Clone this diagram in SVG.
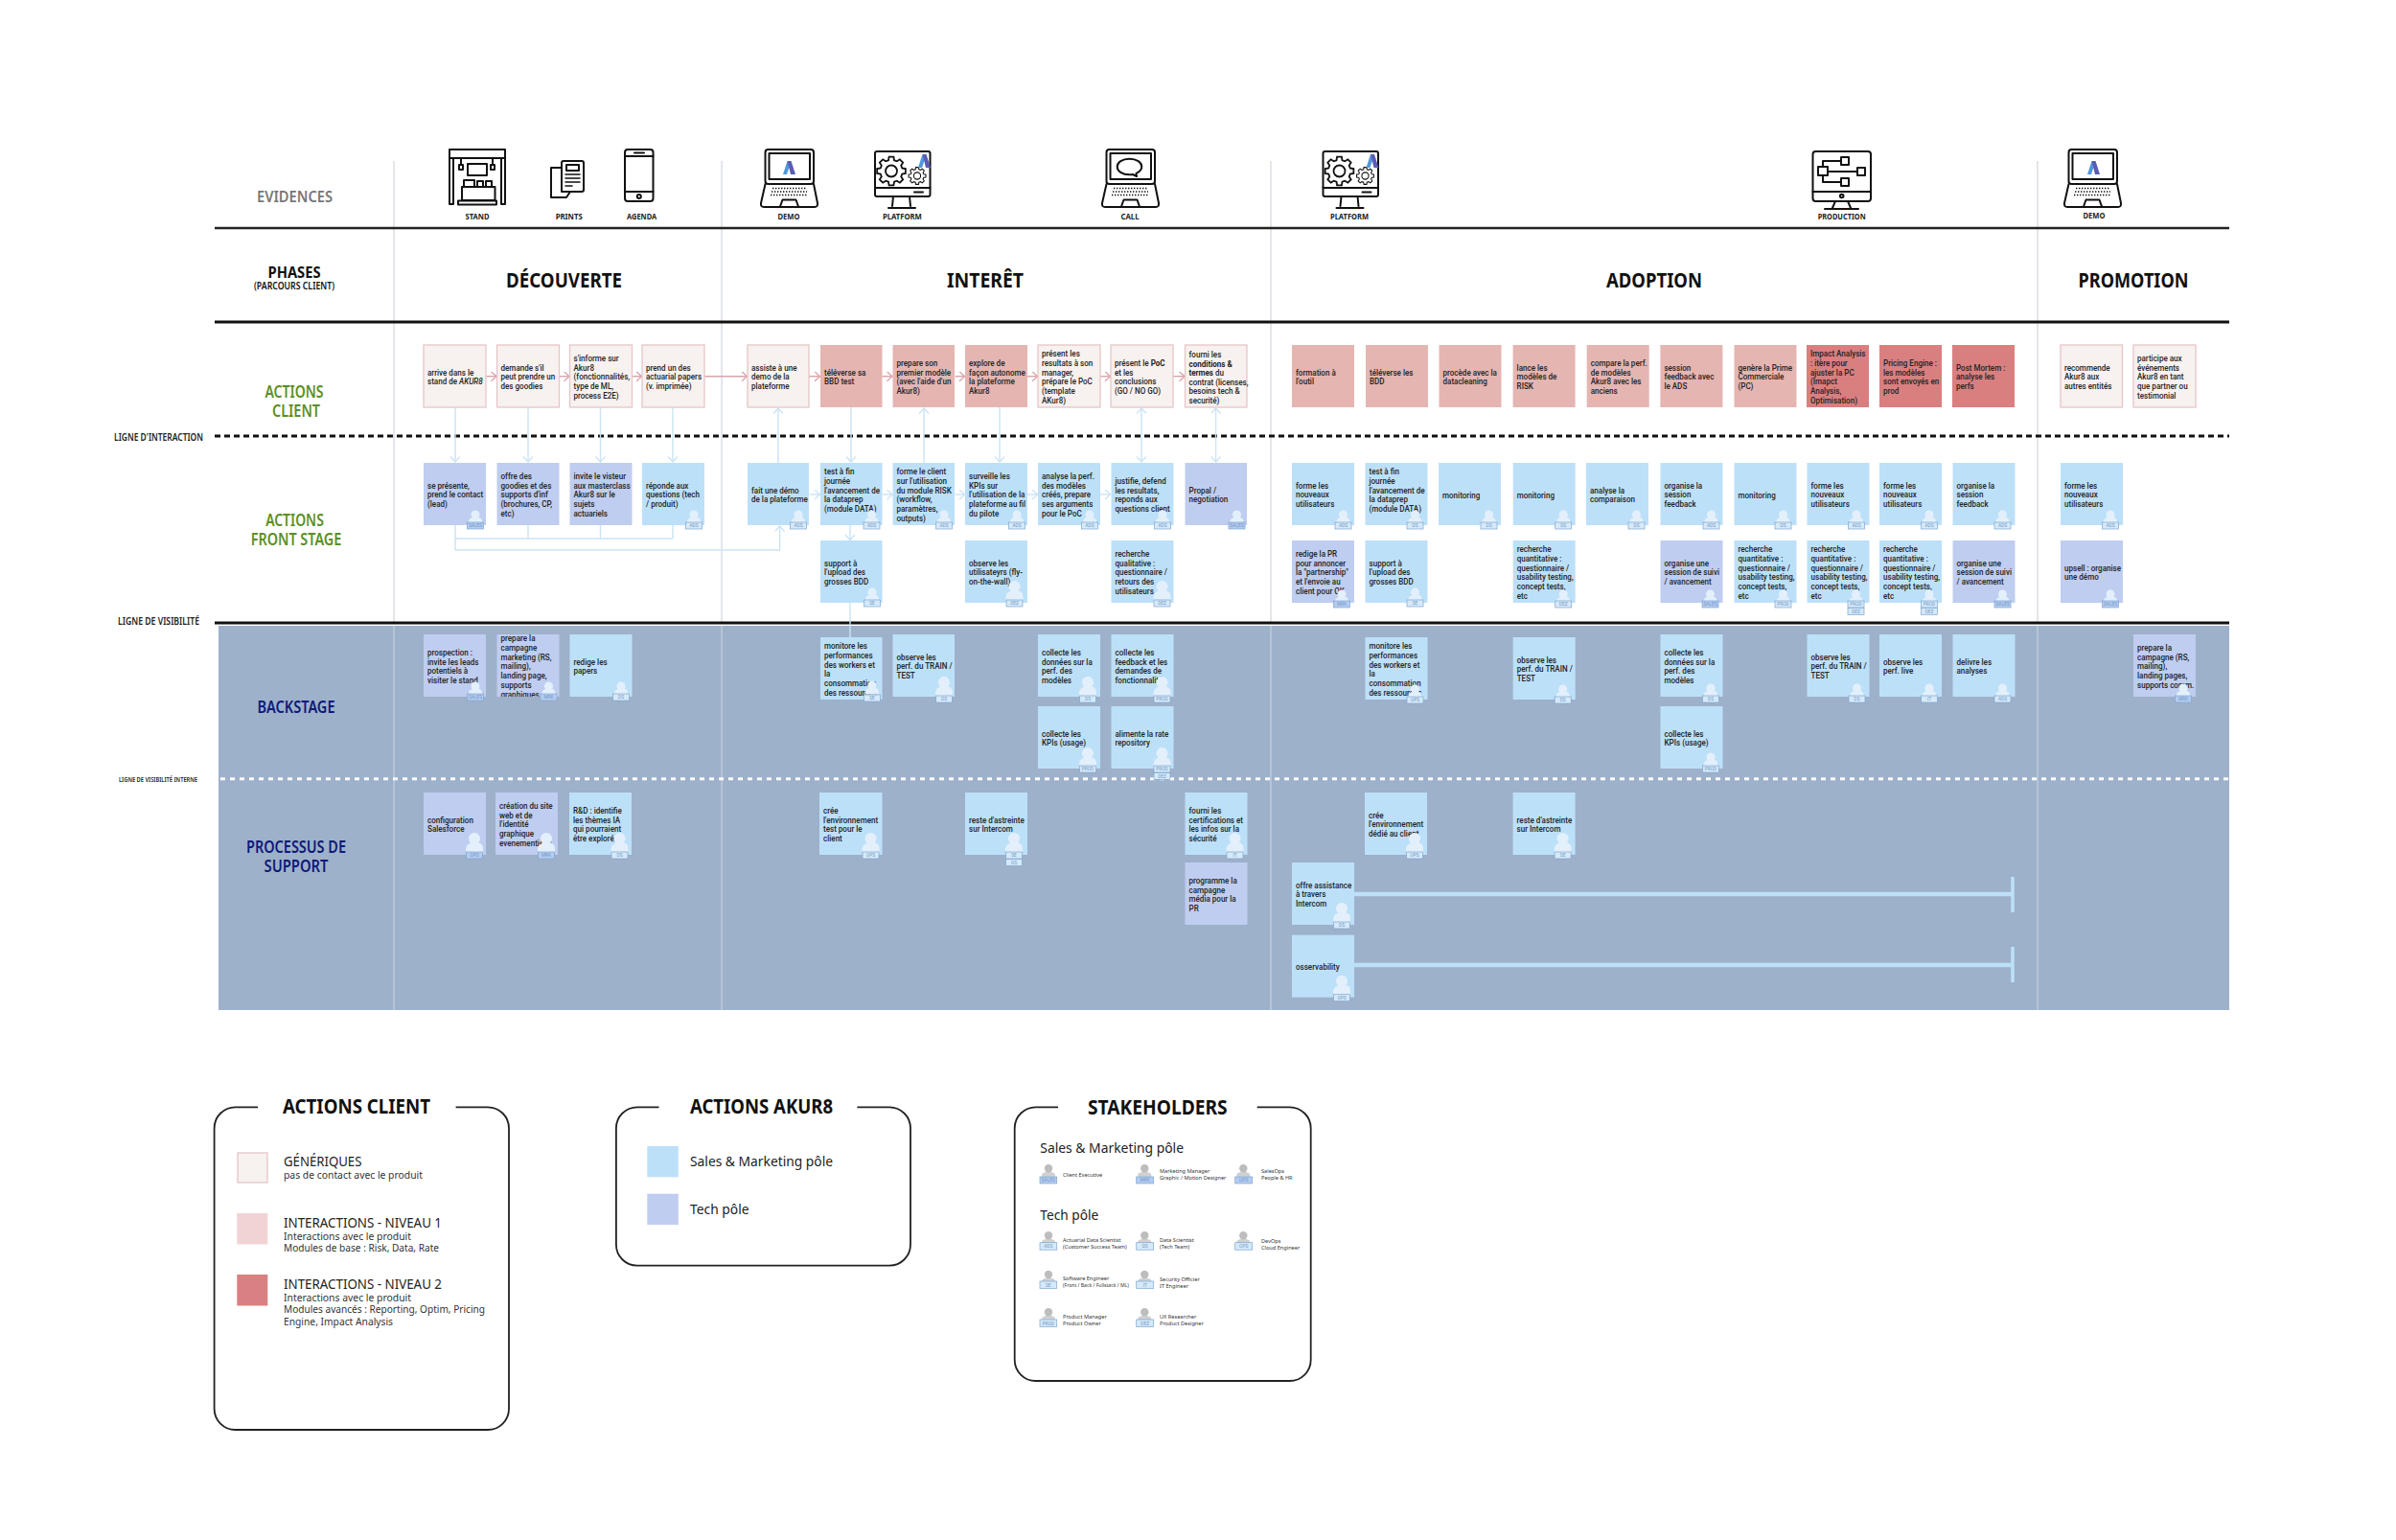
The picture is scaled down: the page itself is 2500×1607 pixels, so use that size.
<svg xmlns="http://www.w3.org/2000/svg" width="2500" height="1607" viewBox="0 0 2500 1607">
<style>
text{font-family:"Noto Sans","Liberation Sans",sans-serif}
.t{font-family:Roboto,"Liberation Sans",sans-serif;font-size:9.6px;font-weight:500;fill:#232323;translate:0 .8px}
.g{fill:#f7f1f0;stroke:#e7c6c6;stroke-width:1.3}
.r1{fill:#e5b5b1}
.r2{fill:#d97f80}
.b{fill:#bde0f9}
.v{fill:#bfcdf0}
.bd{fill:#d5e9f9;stroke:#7ea6cf;stroke-width:.7}
.bd2{fill:#b4cbf1;stroke:#7ea6cf;stroke-width:.7}
.bt{font-family:Roboto,sans-serif;font-size:4.8px;fill:#7499c6;text-anchor:middle}
.pf{fill:#e3f0fb}
.ic{fill:none;stroke:#111;stroke-width:2;stroke-linejoin:round;stroke-linecap:round}
.ev{font-size:8px;font-weight:700;fill:#222;text-anchor:middle}
.ph{font-size:21px;font-weight:700;fill:#111;text-anchor:middle}
.gr{font-size:17px;font-weight:600;fill:#5b8f22;text-anchor:middle;translate:0 1.5px}
.nv{font-size:17px;font-weight:600;fill:#0d1a7a;text-anchor:middle;translate:0 1.5px}
.lg{font-weight:600;fill:#222;text-anchor:middle}
.lt{font-size:21px;font-weight:700;fill:#111;text-anchor:middle;translate:0 1.5px}
.l1{font-size:14px;fill:#222;translate:0 1px}
.l2{font-size:11px;fill:#333;translate:0 1px}
.s{font-size:5.6px;fill:#333;translate:0 .8px}
.hd{translate:0 1.5px}
.sp{fill:#bdbdbd}
.box{fill:none;stroke:#222;stroke-width:1.8}
.vl{stroke:#dde0e5;stroke-width:1.6}
.vb{stroke:#c6d1df;stroke-width:1.2}
.cb{fill:none;stroke:#cbe3f5;stroke-width:1.4}
.cr{fill:none;stroke:#d9a3aa;stroke-width:1.4}
</style>
<defs>
<marker id="ab" markerUnits="userSpaceOnUse" markerWidth="10" markerHeight="12" refX="6.5" refY="5" orient="auto-start-reverse"><path d="M1 0L6.5 5L1 10" fill="none" stroke="#cbe3f5" stroke-width="1.3"/></marker>
<marker id="ar" markerUnits="userSpaceOnUse" markerWidth="10" markerHeight="12" refX="6.5" refY="5" orient="auto"><path d="M1 0L6.5 5L1 10" fill="none" stroke="#d9a3aa" stroke-width="1.3"/></marker>
<g id="ps" class="pf"><circle r="4.5"/><path d="M-7 9.5v-2.5q0-4 7-4.5t7 4.5v2.5z"/></g>
<g id="pb" class="pf"><circle r="6"/><path d="M-9 15v-4q0-6 9-7t9 7v4z"/></g>
<g id="bs"><rect width="17" height="7" class="bd"/></g>
<g id="bv"><rect width="17" height="7" class="bd2"/></g>
<g id="sperson"><circle r="4.2" class="sp"/><path d="M-7 10v-3q0-3.5 7-3.5t7 3.5v3z" class="sp" opacity=".7"/></g>
<g id="logo"><path d="M4.500 0L0 14H4L7 5z" fill="#4f97dc"/><path d="M4.500 0H8.500L13 14H8z" fill="#5a5cb4"/></g>
<g id="gear"><polygon points="75,-20 99,-16 99,16 75,20 68,39 81,59 59,81 39,68 20,75 16,99 -16,99 -20,75 -39,68 -59,81 -81,59 -68,39 -75,20 -99,16 -99,-16 -75,-20 -68,-39 -81,-59 -59,-81 -39,-68 -20,-75 -16,-99 16,-99 20,-75 39,-68 59,-81 81,-59 68,-39" fill="none" stroke="#111" stroke-width="12"/><circle r="40" fill="none" stroke="#111" stroke-width="12"/></g>
<g id="laptop" class="ic"><rect x="5.5" y="1" width="50.5" height="36" rx="3"/><rect x="9.5" y="5" width="42.5" height="27"/><path d="M5.5 37L1 57Q.5 61 4 61H57Q60.5 61 60 57L56 37"/><path d="M21 60.5L23.5 53.5H37.5L40 60.5"/><path d="M13 41.5H48M12 45H49M11 48.5H50" stroke-width="1.6" stroke-dasharray="1.4 1.6" stroke-linecap="butt"/></g>
<g id="monitor"><rect x="1" y="1" width="57.5" height="47" rx="2" class="ic"/><path d="M1 39H58.5M42 43.5H51M20 48L19 58M37 48L38 58M15 60H43" class="ic"/><use href="#gear" transform="translate(18 21.5) scale(.15)"/><use href="#gear" transform="translate(45 26.5) scale(.09)"/><use href="#logo" x="46" y="4"/></g>
</defs>
<rect width="2500" height="1607" fill="#fff"/>
<rect id="band" x="228" y="653" width="2098" height="401" fill="#9eb1ca"/>
<g id="grid">
<path class="vl" d="M411 168V650M753 168V650M1326 168V650M2126 168V650"/>
<path class="vb" d="M411 653V1054M753 653V1054M1326 653V1054M2126 653V1054"/>
<path d="M224 238H2326" stroke="#222" stroke-width="2.5"/>
<path d="M224 336H2326" stroke="#111" stroke-width="3"/>
<path d="M224 650H2326" stroke="#111" stroke-width="3"/>
<path d="M224 455H2326" stroke="#111" stroke-width="3" stroke-dasharray="6 4"/>
<path d="M230 812.7H2326" stroke="#fff" stroke-width="3" stroke-dasharray="5 5"/>
</g>
<g id="labels">
<text class="hd" x="307.5" y="209" font-size="16.5" font-weight="600" fill="#777" text-anchor="middle" textLength="79" lengthAdjust="spacingAndGlyphs">EVIDENCES</text>
<text class="hd" x="307" y="288" font-size="15.5" font-weight="700" fill="#111" text-anchor="middle" textLength="55" lengthAdjust="spacingAndGlyphs">PHASES</text>
<text class="hd" x="307" y="300" font-size="10.5" font-weight="600" fill="#111" text-anchor="middle" textLength="84" lengthAdjust="spacingAndGlyphs">(PARCOURS CLIENT)</text>
<text class="ph" x="588.5" y="300" textLength="121" lengthAdjust="spacingAndGlyphs">DÉCOUVERTE</text>
<text class="ph" x="1028" y="300" textLength="80" lengthAdjust="spacingAndGlyphs">INTERÊT</text>
<text class="ph" x="1726" y="300" textLength="100" lengthAdjust="spacingAndGlyphs">ADOPTION</text>
<text class="ph" x="2226" y="300" textLength="115" lengthAdjust="spacingAndGlyphs">PROMOTION</text>
<text class="gr" x="307" y="413" textLength="61" lengthAdjust="spacingAndGlyphs">ACTIONS</text>
<text class="gr" x="309" y="433" textLength="50" lengthAdjust="spacingAndGlyphs">CLIENT</text>
<text class="gr" x="307.5" y="547.7" textLength="60.6" lengthAdjust="spacingAndGlyphs">ACTIONS</text>
<text class="gr" x="309" y="567" textLength="94.6" lengthAdjust="spacingAndGlyphs">FRONT STAGE</text>
<text class="nv" x="309" y="742" textLength="81" lengthAdjust="spacingAndGlyphs">BACKSTAGE</text>
<text class="nv" x="309" y="888" textLength="104" lengthAdjust="spacingAndGlyphs">PROCESSUS DE</text>
<text class="nv" x="309" y="908" textLength="67" lengthAdjust="spacingAndGlyphs">SUPPORT</text>
<text class="lg" x="165.5" y="460" font-size="10" textLength="93" lengthAdjust="spacingAndGlyphs">LIGNE D'INTERACTION</text>
<text class="lg" x="165.5" y="652" font-size="10" textLength="85" lengthAdjust="spacingAndGlyphs">LIGNE DE VISIBILITÉ</text>
<text class="lg" x="165" y="816" font-size="7.5" textLength="82" lengthAdjust="spacingAndGlyphs">LIGNE DE VISIBILITÉ INTERNE</text>
</g>
<g id="evidences">
<g id="ev-stand"><g class="ic"><rect x="469" y="156" width="58" height="9"/><path d="M469 165V213H473V165M527 165V213H523V165"/><rect x="488" y="171" width="20" height="12"/><path d="M482 195H516.500V209H482zM478 209.500H518V213.500H478z"/><path d="M484 195V188H495V195M498 195V189H504V195M507 195V189H513V195"/><path d="M481 165V172M514 165V172"/><rect x="479" y="172" width="4" height="5"/><rect x="512" y="172" width="4" height="5"/></g><text class="ev" x="498" y="229" textLength="25" lengthAdjust="spacingAndGlyphs">STAND</text></g>
<g id="ev-prints"><g class="ic"><path d="M586 175H575V206H591L595 200"/><path d="M586 200V170Q586 168 588 168H607Q609 168 609 170V198Q609 200 607 200H586z" fill="#fff"/><rect x="591" y="172" width="13" height="6"/><path d="M590 182H605M590 186H605M590 190H605M590 194H597" stroke-width="1.6"/></g><text class="ev" x="593.700" y="229" textLength="28" lengthAdjust="spacingAndGlyphs">PRINTS</text></g>
<g id="ev-agenda"><g class="ic"><rect x="652" y="156" width="29.500" height="54" rx="3"/><path d="M652 163H681.500M652 200H681.500M662 159.500H672"/><circle cx="666.800" cy="205" r="2"/></g><text class="ev" x="669.600" y="229" textLength="31" lengthAdjust="spacingAndGlyphs">AGENDA</text></g>
<g id="ev-demo"><use href="#laptop" x="793" y="155"/><use href="#logo" x="817" y="168"/><text class="ev" x="823" y="229" textLength="23" lengthAdjust="spacingAndGlyphs">DEMO</text></g>
<g id="ev-platform"><use href="#monitor" x="912" y="157"/><text class="ev" x="941.400" y="229" textLength="41" lengthAdjust="spacingAndGlyphs">PLATFORM</text></g>
<g id="ev-call"><use href="#laptop" x="1149" y="155"/><path class="ic" d="M1178.500 165.700C1171 165.700 1165.700 169.500 1165.700 174C1165.700 178.500 1171 182.300 1178.500 182.300C1180 182.300 1181 182.300 1182 182L1186 184L1185.500 180.800C1189 179.300 1191.300 176.800 1191.300 174C1191.300 169.500 1186 165.700 1178.500 165.700z"/><text class="ev" x="1179" y="229" textLength="19" lengthAdjust="spacingAndGlyphs">CALL</text></g>
<g id="ev-platform2"><use href="#monitor" x="1379.500" y="157"/><text class="ev" x="1408" y="229" textLength="40" lengthAdjust="spacingAndGlyphs">PLATFORM</text></g>
<g id="ev-production"><g class="ic"><rect x="1891.500" y="158" width="60.500" height="52" rx="3"/><path d="M1891.500 200H1952M1915 210L1912 217M1928 210L1931 217M1904 218H1939"/><circle cx="1921.700" cy="204.500" r="1.800"/><rect x="1897" y="174" width="10" height="9"/><rect x="1921" y="164" width="8" height="8"/><rect x="1938" y="175" width="8" height="8"/><rect x="1921" y="186" width="8" height="8"/><path d="M1902 174V168H1921M1907 179H1938M1902 183V190H1921"/></g><text class="ev" x="1921.700" y="229" textLength="50" lengthAdjust="spacingAndGlyphs">PRODUCTION</text></g>
<g id="ev-demo2"><use href="#laptop" x="2153" y="155"/><use href="#logo" x="2178" y="168"/><text class="ev" x="2185" y="228" textLength="23" lengthAdjust="spacingAndGlyphs">DEMO</text></g>
</g>
<g id="connectors">
<path class="cr" marker-end="url(#ar)" d="M507 392.700H518"/><path class="cr" marker-end="url(#ar)" d="M583 392.700H594"/><path class="cr" marker-end="url(#ar)" d="M659 392.700H669.500"/><path class="cr" marker-end="url(#ar)" d="M735 392.700H779.500"/><path class="cr" marker-end="url(#ar)" d="M844 392.700H855.500"/><path class="cr" marker-end="url(#ar)" d="M920.500 392.700H931"/><path class="cr" marker-end="url(#ar)" d="M996.500 392.700H1006.500"/><path class="cr" marker-end="url(#ar)" d="M1072 392.700H1082.500"/><path class="cr" marker-end="url(#ar)" d="M1148 392.700H1158.500"/><path class="cr" marker-end="url(#ar)" d="M1224 392.700H1236"/>
<path class="cb" marker-end="url(#ab)" d="M475 425V482"/><path class="cb" marker-end="url(#ab)" d="M551 425V482"/><path class="cb" marker-end="url(#ab)" d="M626.500 425V482"/><path class="cb" marker-end="url(#ab)" d="M702 425V482"/>
<path class="cb" marker-end="url(#ab)" d="M812 483V426"/><path class="cb" marker-end="url(#ab)" d="M888 425V482"/><path class="cb" marker-end="url(#ab)" d="M964 483V426"/><path class="cb" marker-end="url(#ab)" d="M1043 425V482"/>
<path class="cb" marker-start="url(#ab)" marker-end="url(#ab)" d="M1191 426V482"/><path class="cb" marker-start="url(#ab)" marker-end="url(#ab)" d="M1268.600 426V482"/>
<path class="cb" d="M475 548V574M551 548V562M626.500 548V562M702 548V562M475 562H702"/>
<path class="cb" marker-end="url(#ab)" d="M475 574H813.600V549"/>
<path class="cb" marker-end="url(#ab)" d="M845 516H855.500"/><path class="cb" marker-end="url(#ab)" d="M921 516H931"/><path class="cb" marker-end="url(#ab)" d="M996.500 516H1006.500"/><path class="cb" marker-end="url(#ab)" d="M1072 516H1082.500"/><path class="cb" marker-end="url(#ab)" d="M1148 516H1158.500"/>
<path class="cb" marker-end="url(#ab)" d="M887 548V563.500"/><path class="cb" d="M887 629V665"/>
<path d="M1413 933H2100M1413 1007H2100" stroke="#bde0f9" stroke-width="4.500" fill="none"/>
<path d="M2100 915V952M2100 988V1025" stroke="#bde0f9" stroke-width="3.500" fill="none"/>
</g>
<g id="client-actions">
<g id="c1" transform="translate(442 360)"><rect width="65" height="65" class="g"/><text class="t" transform="matrix(.84 0 0 1 4 30.900)"><tspan x="0">arrive dans le</tspan><tspan x="0" dy="9.700">stand de <tspan font-style="italic">AKUR8</tspan></tspan></text></g>
<g id="c2" transform="translate(518.500 360)"><rect width="65" height="65" class="g"/><text class="t" transform="matrix(.84 0 0 1 4 26)"><tspan x="0">demande s'il</tspan><tspan x="0" dy="9.700">peut prendre un</tspan><tspan x="0" dy="9.700">des goodies</tspan></text></g>
<g id="c3" transform="translate(594.500 360)"><rect width="65" height="65" class="g"/><text class="t" transform="matrix(.84 0 0 1 4 16.300)"><tspan x="0">s'informe sur</tspan><tspan x="0" dy="9.700">Akur8</tspan><tspan x="0" dy="9.700">(fonctionnalités,</tspan><tspan x="0" dy="9.700">type de ML,</tspan><tspan x="0" dy="9.700">process E2E)</tspan></text></g>
<g id="c4" transform="translate(670 360)"><rect width="65" height="65" class="g"/><text class="t" transform="matrix(.84 0 0 1 4 26)"><tspan x="0">prend un des</tspan><tspan x="0" dy="9.700">actuarial papers</tspan><tspan x="0" dy="9.700">(v. imprimée)</tspan></text></g>
<g id="c5" transform="translate(780 360)"><rect width="64" height="65" class="g"/><text class="t" transform="matrix(.84 0 0 1 4 26)"><tspan x="0">assiste à une</tspan><tspan x="0" dy="9.700">demo de la</tspan><tspan x="0" dy="9.700">plateforme</tspan></text></g>
<g id="c6" transform="translate(856 360)"><rect width="64.500" height="65" class="r1"/><text class="t" transform="matrix(.84 0 0 1 4 30.900)"><tspan x="0">téléverse sa</tspan><tspan x="0" dy="9.700">BBD test</tspan></text></g>
<g id="c7" transform="translate(931.500 360)"><rect width="64.500" height="65" class="r1"/><text class="t" transform="matrix(.84 0 0 1 4 21.200)"><tspan x="0">prepare son</tspan><tspan x="0" dy="9.700">premier modèle</tspan><tspan x="0" dy="9.700">(avec l'aide d'un</tspan><tspan x="0" dy="9.700">Akur8)</tspan></text></g>
<g id="c8" transform="translate(1007 360)"><rect width="65" height="65" class="r1"/><text class="t" transform="matrix(.84 0 0 1 4 21.200)"><tspan x="0">explore de</tspan><tspan x="0" dy="9.700">façon autonome</tspan><tspan x="0" dy="9.700">la plateforme</tspan><tspan x="0" dy="9.700">Akur8</tspan></text></g>
<g id="c9" transform="translate(1083 360)"><rect width="65" height="65" class="g"/><text class="t" transform="matrix(.84 0 0 1 4 11.500)"><tspan x="0">présent les</tspan><tspan x="0" dy="9.700">resultats à son</tspan><tspan x="0" dy="9.700">manager,</tspan><tspan x="0" dy="9.700">prépare le PoC</tspan><tspan x="0" dy="9.700">(template</tspan><tspan x="0" dy="9.700">AKur8)</tspan></text></g>
<g id="c10" transform="translate(1159 360)"><rect width="65" height="65" class="g"/><text class="t" transform="matrix(.84 0 0 1 4 21.200)"><tspan x="0">présent le <tspan font-weight="700">PoC</tspan></tspan><tspan x="0" dy="9.700">et les</tspan><tspan x="0" dy="9.700">conclusions</tspan><tspan x="0" dy="9.700">(GO / NO GO)</tspan></text></g>
<g id="c11" transform="translate(1236.500 360)"><rect width="64.500" height="65" class="g"/><text class="t" transform="matrix(.84 0 0 1 4 12.500)"><tspan x="0">fourni les</tspan><tspan x="0" dy="9.700" font-weight="700">conditions &amp;</tspan><tspan x="0" dy="9.200"><tspan font-weight="700">termes</tspan> du</tspan><tspan x="0" dy="9.500">contrat (licenses,</tspan><tspan x="0" dy="9.500">besoins tech &amp;</tspan><tspan x="0" dy="9.500">securité)</tspan></text></g>
<g id="c12" transform="translate(1348 360)"><rect width="65" height="65" class="r1"/><text class="t" transform="matrix(.84 0 0 1 4 30.900)"><tspan x="0">formation à</tspan><tspan x="0" dy="9.700">l'outil</tspan></text></g>
<g id="c13" transform="translate(1425 360)"><rect width="65" height="65" class="r1"/><text class="t" transform="matrix(.84 0 0 1 4 30.900)"><tspan x="0">téléverse les</tspan><tspan x="0" dy="9.700">BDD</tspan></text></g>
<g id="c14" transform="translate(1501.500 360)"><rect width="65" height="65" class="r1"/><text class="t" transform="matrix(.84 0 0 1 4 30.900)"><tspan x="0">procède avec la</tspan><tspan x="0" dy="9.700">datacleaning</tspan></text></g>
<g id="c15" transform="translate(1578.600 360)"><rect width="65" height="65" class="r1"/><text class="t" transform="matrix(.84 0 0 1 4 26)"><tspan x="0">lance les</tspan><tspan x="0" dy="9.700">modèles de</tspan><tspan x="0" dy="9.700">RISK</tspan></text></g>
<g id="c16" transform="translate(1655.700 360)"><rect width="65" height="65" class="r1"/><text class="t" transform="matrix(.84 0 0 1 4 21.200)"><tspan x="0">compare la perf.</tspan><tspan x="0" dy="9.700">de modèles</tspan><tspan x="0" dy="9.700">Akur8 avec les</tspan><tspan x="0" dy="9.700">anciens</tspan></text></g>
<g id="c17" transform="translate(1732.400 360)"><rect width="65" height="65" class="r1"/><text class="t" transform="matrix(.84 0 0 1 4 26)"><tspan x="0">session</tspan><tspan x="0" dy="9.700">feedback avec</tspan><tspan x="0" dy="9.700">le ADS</tspan></text></g>
<g id="c18" transform="translate(1809.500 360)"><rect width="65" height="65" class="r1"/><text class="t" transform="matrix(.84 0 0 1 4 26)"><tspan x="0">genère la Prime</tspan><tspan x="0" dy="9.700">Commerciale</tspan><tspan x="0" dy="9.700">(PC)</tspan></text></g>
<g id="c19" transform="translate(1885 360)"><rect width="65" height="65" class="r2"/><text class="t" transform="matrix(.84 0 0 1 4 11.500)"><tspan x="0">Impact Analysis</tspan><tspan x="0" dy="9.700">: itère pour</tspan><tspan x="0" dy="9.700">ajuster la PC</tspan><tspan x="0" dy="9.700">(Imapct</tspan><tspan x="0" dy="9.700">Analysis,</tspan><tspan x="0" dy="9.700">Optimisation)</tspan></text></g>
<g id="c20" transform="translate(1961 360)"><rect width="65" height="65" class="r2"/><text class="t" transform="matrix(.84 0 0 1 4 21.200)"><tspan x="0">Pricing Engine :</tspan><tspan x="0" dy="9.700">les modèles</tspan><tspan x="0" dy="9.700">sont envoyés en</tspan><tspan x="0" dy="9.700">prod</tspan></text></g>
<g id="c21" transform="translate(2037 360)"><rect width="65" height="65" class="r2"/><text class="t" transform="matrix(.84 0 0 1 4 26)"><tspan x="0">Post Mortem :</tspan><tspan x="0" dy="9.700">analyse les</tspan><tspan x="0" dy="9.700">perfs</tspan></text></g>
<g id="c22" transform="translate(2150 360)"><rect width="64.500" height="65" class="g"/><text class="t" transform="matrix(.84 0 0 1 4 26)"><tspan x="0">recommende</tspan><tspan x="0" dy="9.700">Akur8 aux</tspan><tspan x="0" dy="9.700">autres entités</tspan></text></g>
<g id="c23" transform="translate(2226 360)"><rect width="65" height="65" class="g"/><text class="t" transform="matrix(.84 0 0 1 4 16.300)"><tspan x="0">participe aux</tspan><tspan x="0" dy="9.700">événements</tspan><tspan x="0" dy="9.700">Akur8 en tant</tspan><tspan x="0" dy="9.700">que partner ou</tspan><tspan x="0" dy="9.700">testimonial</tspan></text></g>
</g>
<g id="front-stage">
<g id="f1" transform="translate(442 483)"><rect width="65" height="65" class="v"/><text class="t" transform="matrix(.84 0 0 1 4 26)"><tspan x="0">se présente,</tspan><tspan x="0" dy="9.700">prend le contact</tspan><tspan x="0" dy="9.700">(lead)</tspan></text><use href="#ps" x="54" y="54"/><use href="#bv" x="45.500" y="62"/><text class="bt" x="54" y="67.300">SALES</text></g>
<g id="f2" transform="translate(518.500 483)"><rect width="65" height="65" class="v"/><text class="t" transform="matrix(.84 0 0 1 4 16.300)"><tspan x="0">offre des</tspan><tspan x="0" dy="9.700">goodies et des</tspan><tspan x="0" dy="9.700">supports d'inf</tspan><tspan x="0" dy="9.700">(brochures, CP,</tspan><tspan x="0" dy="9.700">etc)</tspan></text></g>
<g id="f3" transform="translate(594.500 483)"><rect width="65" height="65" class="v"/><text class="t" transform="matrix(.84 0 0 1 4 16.300)"><tspan x="0">invite le visteur</tspan><tspan x="0" dy="9.700">aux masterclass</tspan><tspan x="0" dy="9.700">Akur8 sur le</tspan><tspan x="0" dy="9.700">sujets</tspan><tspan x="0" dy="9.700">actuariels</tspan></text></g>
<g id="f4" transform="translate(670 483)"><rect width="65" height="65" class="b"/><text class="t" transform="matrix(.84 0 0 1 4 26)"><tspan x="0">réponde aux</tspan><tspan x="0" dy="9.700">questions (tech</tspan><tspan x="0" dy="9.700">/ produit)</tspan></text><use href="#ps" x="54" y="54"/><use href="#bs" x="45.500" y="62"/><text class="bt" x="54" y="67.300">ADS</text></g>
<g id="f5" transform="translate(780 483)"><rect width="64" height="65" class="b"/><text class="t" transform="matrix(.84 0 0 1 4 30.900)"><tspan x="0">fait une démo</tspan><tspan x="0" dy="9.700">de la plateforme</tspan></text><use href="#ps" x="53" y="54"/><use href="#bs" x="44.500" y="62"/><text class="bt" x="53" y="67.300">ADS</text></g>
<g id="f6" transform="translate(856 483)"><rect width="64.500" height="65" class="b"/><text class="t" transform="matrix(.84 0 0 1 4 11.500)"><tspan x="0">test à fin</tspan><tspan x="0" dy="9.700">journée</tspan><tspan x="0" dy="9.700">l'avancement de</tspan><tspan x="0" dy="9.700">la dataprep</tspan><tspan x="0" dy="9.700">(module DATA)</tspan></text><use href="#ps" x="53.500" y="54"/><use href="#bs" x="45" y="62"/><text class="bt" x="53.500" y="67.300">ADS</text></g>
<g id="f7" transform="translate(931.500 483)"><rect width="64.500" height="65" class="b"/><text class="t" transform="matrix(.84 0 0 1 4 11.500)"><tspan x="0">forme le client</tspan><tspan x="0" dy="9.700">sur l'utilisation</tspan><tspan x="0" dy="9.700">du module RISK</tspan><tspan x="0" dy="9.700">(workflow,</tspan><tspan x="0" dy="9.700">paramètres,</tspan><tspan x="0" dy="9.700">outputs)</tspan></text><use href="#ps" x="53.500" y="54"/><use href="#bs" x="45" y="62"/><text class="bt" x="53.500" y="67.300">ADS</text></g>
<g id="f8" transform="translate(1007 483)"><rect width="65" height="65" class="b"/><text class="t" transform="matrix(.84 0 0 1 4 16.300)"><tspan x="0">surveille les</tspan><tspan x="0" dy="9.700">KPIs sur</tspan><tspan x="0" dy="9.700">l'utilisation de la</tspan><tspan x="0" dy="9.700">plateforme au fil</tspan><tspan x="0" dy="9.700">du pilote</tspan></text><use href="#ps" x="54" y="54"/><use href="#bs" x="45.500" y="62"/><text class="bt" x="54" y="67.300">ADS</text></g>
<g id="f9" transform="translate(1083 483)"><rect width="65" height="65" class="b"/><text class="t" transform="matrix(.84 0 0 1 4 16.300)"><tspan x="0">analyse la perf.</tspan><tspan x="0" dy="9.700">des modèles</tspan><tspan x="0" dy="9.700">créés, prepare</tspan><tspan x="0" dy="9.700">ses arguments</tspan><tspan x="0" dy="9.700">pour le PoC</tspan></text><use href="#ps" x="54" y="54"/><use href="#bs" x="45.500" y="62"/><text class="bt" x="54" y="67.300">ADS</text></g>
<g id="f10" transform="translate(1159.500 483)"><rect width="65" height="65" class="b"/><text class="t" transform="matrix(.84 0 0 1 4 21.200)"><tspan x="0">justifie, defend</tspan><tspan x="0" dy="9.700">les resultats,</tspan><tspan x="0" dy="9.700">reponds aux</tspan><tspan x="0" dy="9.700">questions client</tspan></text><use href="#ps" x="53.500" y="54"/><use href="#bs" x="45" y="62"/><text class="bt" x="53.500" y="67.300">ADS</text></g>
<g id="f11" transform="translate(1236.500 483)"><rect width="64.500" height="65" class="v"/><text class="t" transform="matrix(.84 0 0 1 4 30.900)"><tspan x="0">Propal /</tspan><tspan x="0" dy="9.700">negotiation</tspan></text><use href="#ps" x="54" y="54"/><use href="#bv" x="45.500" y="62"/><text class="bt" x="54" y="67.300">SALES</text></g>
<g id="f12" transform="translate(856 564)"><rect width="64.500" height="65" class="b"/><text class="t" transform="matrix(.84 0 0 1 4 26)"><tspan x="0">support à</tspan><tspan x="0" dy="9.700">l'upload des</tspan><tspan x="0" dy="9.700">grosses BDD</tspan></text><use href="#ps" x="54" y="54"/><use href="#bs" x="45.500" y="62"/><text class="bt" x="54" y="67.300">SE</text></g>
<g id="f13" transform="translate(1007 564)"><rect width="65" height="65" class="b"/><text class="t" transform="matrix(.84 0 0 1 4 26)"><tspan x="0">observe les</tspan><tspan x="0" dy="9.700">utilisateyrs (fly-</tspan><tspan x="0" dy="9.700">on-the-wall)</tspan></text><use href="#pb" x="51.500" y="48"/><use href="#bs" x="43" y="62"/><text class="bt" x="51.500" y="67.300">DEZ</text></g>
<g id="f14" transform="translate(1159.500 564)"><rect width="65" height="65" class="b"/><text class="t" transform="matrix(.84 0 0 1 4 16.300)"><tspan x="0">recherche</tspan><tspan x="0" dy="9.700">qualitative :</tspan><tspan x="0" dy="9.700">questionnaire /</tspan><tspan x="0" dy="9.700">retours des</tspan><tspan x="0" dy="9.700">utilisateurs</tspan></text><use href="#pb" x="53" y="48"/><use href="#bs" x="44.500" y="62"/><text class="bt" x="53" y="67.300">DEZ</text></g>
<g id="f15" transform="translate(1348 483)"><rect width="65" height="65" class="b"/><text class="t" transform="matrix(.84 0 0 1 4 26)"><tspan x="0">forme les</tspan><tspan x="0" dy="9.700">nouveaux</tspan><tspan x="0" dy="9.700">utilisateurs</tspan></text><use href="#ps" x="53.500" y="54"/><use href="#bs" x="45" y="62"/><text class="bt" x="53.500" y="67.300">ADS</text></g>
<g id="f16" transform="translate(1424.500 483)"><rect width="65" height="65" class="b"/><text class="t" transform="matrix(.84 0 0 1 4 11.500)"><tspan x="0">test à fin</tspan><tspan x="0" dy="9.700">journée</tspan><tspan x="0" dy="9.700">l'avancement de</tspan><tspan x="0" dy="9.700">la dataprep</tspan><tspan x="0" dy="9.700">(module DATA)</tspan></text><use href="#ps" x="52" y="54"/><use href="#bs" x="43.500" y="62"/><text class="bt" x="52" y="67.300">DS</text></g>
<g id="f17" transform="translate(1501 483)"><rect width="65" height="65" class="b"/><text class="t" transform="matrix(.84 0 0 1 4 35.700)"><tspan x="0">monitoring</tspan></text><use href="#ps" x="52.500" y="54"/><use href="#bs" x="44" y="62"/><text class="bt" x="52.500" y="67.300">DS</text></g>
<g id="f18" transform="translate(1578.700 483)"><rect width="65" height="65" class="b"/><text class="t" transform="matrix(.84 0 0 1 4 35.700)"><tspan x="0">monitoring</tspan></text><use href="#ps" x="52.500" y="54"/><use href="#bs" x="44" y="62"/><text class="bt" x="52.500" y="67.300">DS</text></g>
<g id="f19" transform="translate(1655 483)"><rect width="65" height="65" class="b"/><text class="t" transform="matrix(.84 0 0 1 4 30.900)"><tspan x="0">analyse la</tspan><tspan x="0" dy="9.700">comparaison</tspan></text><use href="#ps" x="52.500" y="54"/><use href="#bs" x="44" y="62"/><text class="bt" x="52.500" y="67.300">DS</text></g>
<g id="f20" transform="translate(1732.500 483)"><rect width="65" height="65" class="b"/><text class="t" transform="matrix(.84 0 0 1 4 26)"><tspan x="0">organise la</tspan><tspan x="0" dy="9.700">session</tspan><tspan x="0" dy="9.700">feedback</tspan></text><use href="#ps" x="53" y="54"/><use href="#bs" x="44.500" y="62"/><text class="bt" x="53" y="67.300">ADS</text></g>
<g id="f21" transform="translate(1809.500 483)"><rect width="65" height="65" class="b"/><text class="t" transform="matrix(.84 0 0 1 4 35.700)"><tspan x="0">monitoring</tspan></text><use href="#ps" x="51" y="54"/><use href="#bs" x="42.500" y="62"/><text class="bt" x="51" y="67.300">DS</text></g>
<g id="f22" transform="translate(1885.500 483)"><rect width="65" height="65" class="b"/><text class="t" transform="matrix(.84 0 0 1 4 26)"><tspan x="0">forme les</tspan><tspan x="0" dy="9.700">nouveaux</tspan><tspan x="0" dy="9.700">utilisateurs</tspan></text><use href="#ps" x="51.500" y="54"/><use href="#bs" x="43" y="62"/><text class="bt" x="51.500" y="67.300">ADS</text></g>
<g id="f23" transform="translate(1961 483)"><rect width="65" height="65" class="b"/><text class="t" transform="matrix(.84 0 0 1 4 26)"><tspan x="0">forme les</tspan><tspan x="0" dy="9.700">nouveaux</tspan><tspan x="0" dy="9.700">utilisateurs</tspan></text><use href="#ps" x="52" y="54"/><use href="#bs" x="43.500" y="62"/><text class="bt" x="52" y="67.300">ADS</text></g>
<g id="f24" transform="translate(2037.500 483)"><rect width="65" height="65" class="b"/><text class="t" transform="matrix(.84 0 0 1 4 26)"><tspan x="0">organise la</tspan><tspan x="0" dy="9.700">session</tspan><tspan x="0" dy="9.700">feedback</tspan></text><use href="#ps" x="52" y="54"/><use href="#bs" x="43.500" y="62"/><text class="bt" x="52" y="67.300">ADS</text></g>
<g id="f25" transform="translate(2150 483)"><rect width="65" height="65" class="b"/><text class="t" transform="matrix(.84 0 0 1 4 26)"><tspan x="0">forme les</tspan><tspan x="0" dy="9.700">nouveaux</tspan><tspan x="0" dy="9.700">utilisateurs</tspan></text><use href="#ps" x="52" y="54"/><use href="#bs" x="43.500" y="62"/><text class="bt" x="52" y="67.300">ADS</text></g>
<g id="f26" transform="translate(1348 564)"><rect width="65" height="65" class="v"/><text class="t" transform="matrix(.84 0 0 1 4 16.300)"><tspan x="0">redige la PR</tspan><tspan x="0" dy="9.700">pour annoncer</tspan><tspan x="0" dy="9.700">la "partnership"</tspan><tspan x="0" dy="9.700">et l'envoie au</tspan><tspan x="0" dy="9.700">client pour OK</tspan></text><use href="#ps" x="52" y="56"/><use href="#bv" x="43.500" y="63"/><text class="bt" x="52" y="68.300">MRK</text></g>
<g id="f27" transform="translate(1424.500 564)"><rect width="65" height="65" class="b"/><text class="t" transform="matrix(.84 0 0 1 4 26)"><tspan x="0">support à</tspan><tspan x="0" dy="9.700">l'upload des</tspan><tspan x="0" dy="9.700">grosses BDD</tspan></text><use href="#ps" x="52" y="54"/><use href="#bs" x="43.500" y="62"/><text class="bt" x="52" y="67.300">SE</text></g>
<g id="f28" transform="translate(1578.700 564)"><rect width="65" height="65" class="b"/><text class="t" transform="matrix(.84 0 0 1 4 11.500)"><tspan x="0">recherche</tspan><tspan x="0" dy="9.700">quantitative :</tspan><tspan x="0" dy="9.700">questionnaire /</tspan><tspan x="0" dy="9.700">usability testing,</tspan><tspan x="0" dy="9.700">concept tests,</tspan><tspan x="0" dy="9.700">etc</tspan></text><use href="#ps" x="52.500" y="56"/><use href="#bs" x="44" y="63"/><text class="bt" x="52.500" y="68.300">DEZ</text></g>
<g id="f29" transform="translate(1732.500 564)"><rect width="65" height="65" class="v"/><text class="t" transform="matrix(.84 0 0 1 4 26)"><tspan x="0">organise une</tspan><tspan x="0" dy="9.700">session de suivi</tspan><tspan x="0" dy="9.700">/ avancement</tspan></text><use href="#ps" x="52" y="56"/><use href="#bv" x="43.500" y="63"/><text class="bt" x="52" y="68.300">SALES</text></g>
<g id="f30" transform="translate(1809.500 564)"><rect width="65" height="65" class="b"/><text class="t" transform="matrix(.84 0 0 1 4 11.500)"><tspan x="0">recherche</tspan><tspan x="0" dy="9.700">quantitative :</tspan><tspan x="0" dy="9.700">questionnaire /</tspan><tspan x="0" dy="9.700">usability testing,</tspan><tspan x="0" dy="9.700">concept tests,</tspan><tspan x="0" dy="9.700">etc</tspan></text><use href="#ps" x="51" y="56"/><use href="#bs" x="42.500" y="63"/><text class="bt" x="51" y="68.300">PROD</text></g>
<g id="f31" transform="translate(1885.500 564)"><rect width="65" height="65" class="b"/><text class="t" transform="matrix(.84 0 0 1 4 11.500)"><tspan x="0">recherche</tspan><tspan x="0" dy="9.700">quantitative :</tspan><tspan x="0" dy="9.700">questionnaire /</tspan><tspan x="0" dy="9.700">usability testing,</tspan><tspan x="0" dy="9.700">concept tests,</tspan><tspan x="0" dy="9.700">etc</tspan></text><use href="#ps" x="51" y="56"/><use href="#bs" x="42.500" y="63"/><text class="bt" x="51" y="68.300">PROD</text><use href="#bs" x="42.500" y="70.500"/><text class="bt" x="51" y="75.800">DEZ</text></g>
<g id="f32" transform="translate(1961 564)"><rect width="65" height="65" class="b"/><text class="t" transform="matrix(.84 0 0 1 4 11.500)"><tspan x="0">recherche</tspan><tspan x="0" dy="9.700">quantitative :</tspan><tspan x="0" dy="9.700">questionnaire /</tspan><tspan x="0" dy="9.700">usability testing,</tspan><tspan x="0" dy="9.700">concept tests,</tspan><tspan x="0" dy="9.700">etc</tspan></text><use href="#ps" x="52" y="56"/><use href="#bs" x="43.500" y="63"/><text class="bt" x="52" y="68.300">PROD</text><use href="#bs" x="43.500" y="70.500"/><text class="bt" x="52" y="75.800">DEZ</text></g>
<g id="f33" transform="translate(2037.500 564)"><rect width="65" height="65" class="v"/><text class="t" transform="matrix(.84 0 0 1 4 26)"><tspan x="0">organise une</tspan><tspan x="0" dy="9.700">session de suivi</tspan><tspan x="0" dy="9.700">/ avancement</tspan></text><use href="#ps" x="52" y="56"/><use href="#bv" x="43.500" y="63"/><text class="bt" x="52" y="68.300">SALES</text></g>
<g id="f34" transform="translate(2150 564)"><rect width="65" height="65" class="v"/><text class="t" transform="matrix(.84 0 0 1 4 30.900)"><tspan x="0">upsell : organise</tspan><tspan x="0" dy="9.700">une démo</tspan></text><use href="#ps" x="52" y="56"/><use href="#bv" x="43.500" y="63"/><text class="bt" x="52" y="68.300">SALES</text></g>
</g>
<g id="backstage">
<clipPath id="cp"><rect width="65" height="65"/></clipPath>
<g id="k1" transform="translate(442 662)"><rect width="65" height="65" class="v"/><text class="t" transform="matrix(.84 0 0 1 4 21.200)"><tspan x="0">prospection :</tspan><tspan x="0" dy="9.700">invite les leads</tspan><tspan x="0" dy="9.700">potentiels à</tspan><tspan x="0" dy="9.700">visiter le stand</tspan></text><use href="#ps" x="54" y="54"/><use href="#bv" x="45.500" y="62"/><text class="bt" x="54" y="67.300">SALES</text></g>
<g id="k2" transform="translate(518.500 662)"><rect width="65" height="65" class="v"/><g clip-path="url(#cp)"><text class="t" transform="matrix(.84 0 0 1 4 6.600)"><tspan x="0">prepare la</tspan><tspan x="0" dy="9.700">campagne</tspan><tspan x="0" dy="9.700">marketing (RS,</tspan><tspan x="0" dy="9.700">mailing),</tspan><tspan x="0" dy="9.700">landing page,</tspan><tspan x="0" dy="9.700">supports</tspan><tspan x="0" dy="9.700">graphiques</tspan></text></g><use href="#ps" x="54" y="54"/><use href="#bv" x="45.500" y="62"/><text class="bt" x="54" y="67.300">MRK</text></g>
<g id="k3" transform="translate(594.500 662)"><rect width="65" height="65" class="b"/><text class="t" transform="matrix(.84 0 0 1 4 30.900)"><tspan x="0">redige les</tspan><tspan x="0" dy="9.700">papers</tspan></text><use href="#ps" x="53.500" y="54"/><use href="#bs" x="45" y="62"/><text class="bt" x="53.500" y="67.300">DS</text></g>
<g id="k4" transform="translate(856 665)"><rect width="64.500" height="65" class="b"/><text class="t" transform="matrix(.84 0 0 1 4 11.500)"><tspan x="0">monitore les</tspan><tspan x="0" dy="9.700">performances</tspan><tspan x="0" dy="9.700">des workers et</tspan><tspan x="0" dy="9.700">la</tspan><tspan x="0" dy="9.700">consommation</tspan><tspan x="0" dy="9.700">des ressources</tspan></text><use href="#ps" x="54" y="50"/><use href="#bs" x="45.500" y="60"/><text class="bt" x="54" y="65.300">SE</text></g>
<g id="k5" transform="translate(931.500 662)"><rect width="64.500" height="65" class="b"/><text class="t" transform="matrix(.84 0 0 1 4 26)"><tspan x="0">observe les</tspan><tspan x="0" dy="9.700">perf. du TRAIN /</tspan><tspan x="0" dy="9.700">TEST</tspan></text><use href="#pb" x="53.500" y="50"/><use href="#bs" x="45" y="64"/><text class="bt" x="53.500" y="69.300">DS</text></g>
<g id="k6" transform="translate(1083 662)"><rect width="65" height="65" class="b"/><text class="t" transform="matrix(.84 0 0 1 4 21.200)"><tspan x="0">collecte les</tspan><tspan x="0" dy="9.700">données sur la</tspan><tspan x="0" dy="9.700">perf. des</tspan><tspan x="0" dy="9.700">modèles</tspan></text><use href="#pb" x="52" y="50"/><use href="#bs" x="43.500" y="64"/><text class="bt" x="52" y="69.300">DS</text></g>
<g id="k7" transform="translate(1159.500 662)"><rect width="65" height="65" class="b"/><text class="t" transform="matrix(.84 0 0 1 4 21.200)"><tspan x="0">collecte les</tspan><tspan x="0" dy="9.700">feedback et les</tspan><tspan x="0" dy="9.700">demandes de</tspan><tspan x="0" dy="9.700">fonctionnalités</tspan></text><use href="#pb" x="53" y="50"/><use href="#bs" x="44.500" y="64"/><text class="bt" x="53" y="69.300">PROD</text></g>
<g id="k8" transform="translate(1083 737)"><rect width="65" height="65" class="b"/><text class="t" transform="matrix(.84 0 0 1 4 30.900)"><tspan x="0">collecte les</tspan><tspan x="0" dy="9.700">KPIs (usage)</tspan></text><use href="#pb" x="52" y="49"/><use href="#bs" x="43.500" y="62"/><text class="bt" x="52" y="67.300">PROD</text></g>
<g id="k9" transform="translate(1159.500 737)"><rect width="65" height="65" class="b"/><text class="t" transform="matrix(.84 0 0 1 4 30.900)"><tspan x="0">alimente la rate</tspan><tspan x="0" dy="9.700">repository</tspan></text><use href="#pb" x="53" y="49"/><use href="#bs" x="44.500" y="62"/><text class="bt" x="53" y="67.300">PROD</text><use href="#bs" x="44.500" y="69.500"/><text class="bt" x="53" y="74.800">DEZ</text></g>
<g id="k10" transform="translate(1424.500 665)"><rect width="65" height="65" class="b"/><text class="t" transform="matrix(.84 0 0 1 4 11.500)"><tspan x="0">monitore les</tspan><tspan x="0" dy="9.700">performances</tspan><tspan x="0" dy="9.700">des workers et</tspan><tspan x="0" dy="9.700">la</tspan><tspan x="0" dy="9.700">consommation</tspan><tspan x="0" dy="9.700">des ressources</tspan></text><use href="#ps" x="52" y="54"/><use href="#bs" x="43.500" y="62"/><text class="bt" x="52" y="67.300">OPS</text></g>
<g id="k11" transform="translate(1578.700 665)"><rect width="65" height="65" class="b"/><text class="t" transform="matrix(.84 0 0 1 4 26)"><tspan x="0">observe les</tspan><tspan x="0" dy="9.700">perf. du TRAIN /</tspan><tspan x="0" dy="9.700">TEST</tspan></text><use href="#ps" x="52" y="54"/><use href="#bs" x="43.500" y="62"/><text class="bt" x="52" y="67.300">DS</text></g>
<g id="k12" transform="translate(1732.500 662)"><rect width="65" height="65" class="b"/><text class="t" transform="matrix(.84 0 0 1 4 21.200)"><tspan x="0">collecte les</tspan><tspan x="0" dy="9.700">données sur la</tspan><tspan x="0" dy="9.700">perf. des</tspan><tspan x="0" dy="9.700">modèles</tspan></text><use href="#ps" x="52.500" y="56"/><use href="#bs" x="44" y="64"/><text class="bt" x="52.500" y="69.300">DS</text></g>
<g id="k13" transform="translate(1732.500 737)"><rect width="65" height="65" class="b"/><text class="t" transform="matrix(.84 0 0 1 4 30.900)"><tspan x="0">collecte les</tspan><tspan x="0" dy="9.700">KPIs (usage)</tspan></text><use href="#ps" x="52.500" y="53"/><use href="#bs" x="44" y="62"/><text class="bt" x="52.500" y="67.300">PROD</text></g>
<g id="k14" transform="translate(1885.500 662)"><rect width="65" height="65" class="b"/><text class="t" transform="matrix(.84 0 0 1 4 26)"><tspan x="0">observe les</tspan><tspan x="0" dy="9.700">perf. du TRAIN /</tspan><tspan x="0" dy="9.700">TEST</tspan></text><use href="#ps" x="52" y="56"/><use href="#bs" x="43.500" y="64"/><text class="bt" x="52" y="69.300">DS</text></g>
<g id="k15" transform="translate(1961 662)"><rect width="65" height="65" class="b"/><text class="t" transform="matrix(.84 0 0 1 4 30.900)"><tspan x="0">observe les</tspan><tspan x="0" dy="9.700">perf. live</tspan></text><use href="#ps" x="52" y="56"/><use href="#bs" x="43.500" y="64"/><text class="bt" x="52" y="69.300">IT</text></g>
<g id="k16" transform="translate(2037.500 662)"><rect width="65" height="65" class="b"/><text class="t" transform="matrix(.84 0 0 1 4 30.900)"><tspan x="0">delivre les</tspan><tspan x="0" dy="9.700">analyses</tspan></text><use href="#ps" x="52" y="56"/><use href="#bs" x="43.500" y="64"/><text class="bt" x="52" y="69.300">ADS</text></g>
<g id="k17" transform="translate(2226 662)"><rect width="65" height="65" class="v"/><text class="t" transform="matrix(.84 0 0 1 4 16.300)"><tspan x="0">prepare la</tspan><tspan x="0" dy="9.700">campagne (RS,</tspan><tspan x="0" dy="9.700">mailing),</tspan><tspan x="0" dy="9.700">landing pages,</tspan><tspan x="0" dy="9.700">supports comm.</tspan></text><use href="#ps" x="52" y="56"/><use href="#bv" x="43.500" y="64"/><text class="bt" x="52" y="69.300">MRK</text></g>
</g>
<g id="support">
<g id="s1" transform="translate(442 827)"><rect width="65" height="65" class="v"/><text class="t" transform="matrix(.84 0 0 1 4 30.900)"><tspan x="0">configuration</tspan><tspan x="0" dy="9.700">Salesforce</tspan></text><use href="#pb" x="53" y="48"/><use href="#bv" x="44.500" y="62"/><text class="bt" x="53" y="67.300">OPS</text></g>
<g id="s2" transform="translate(517 827)"><rect width="65" height="65" class="v"/><text class="t" transform="matrix(.84 0 0 1 4 16.300)"><tspan x="0">création du site</tspan><tspan x="0" dy="9.700">web et de</tspan><tspan x="0" dy="9.700">l'identité</tspan><tspan x="0" dy="9.700">graphique</tspan><tspan x="0" dy="9.700">evenementielle</tspan></text><use href="#pb" x="53" y="48"/><use href="#bv" x="44.500" y="62"/><text class="bt" x="53" y="67.300">MRK</text></g>
<g id="s3" transform="translate(594 827)"><rect width="65" height="65" class="b"/><text class="t" transform="matrix(.84 0 0 1 4 21.200)"><tspan x="0">R&amp;D : identifie</tspan><tspan x="0" dy="9.700">les thèmes IA</tspan><tspan x="0" dy="9.700">qui pourraient</tspan><tspan x="0" dy="9.700">être explorés</tspan></text><use href="#pb" x="52.500" y="48"/><use href="#bs" x="44" y="62"/><text class="bt" x="52.500" y="67.300">DS</text></g>
<g id="s4" transform="translate(855 827)"><rect width="65.500" height="65" class="b"/><text class="t" transform="matrix(.84 0 0 1 4 21.200)"><tspan x="0">crée</tspan><tspan x="0" dy="9.700">l'environnement</tspan><tspan x="0" dy="9.700">test pour le</tspan><tspan x="0" dy="9.700">client</tspan></text><use href="#pb" x="53.500" y="48"/><use href="#bs" x="45" y="62"/><text class="bt" x="53.500" y="67.300">OPS</text></g>
<g id="s5" transform="translate(1007 827)"><rect width="65" height="65" class="b"/><text class="t" transform="matrix(.84 0 0 1 4 30.900)"><tspan x="0">reste d'astreinte</tspan><tspan x="0" dy="9.700">sur Intercom</tspan></text><use href="#pb" x="51" y="48"/><use href="#bs" x="42.500" y="62"/><text class="bt" x="51" y="67.300">SE</text><use href="#bs" x="42.500" y="69.500"/><text class="bt" x="51" y="74.800">DS</text></g>
<g id="s6" transform="translate(1236.500 827)"><rect width="65" height="65" class="b"/><text class="t" transform="matrix(.84 0 0 1 4 21.200)"><tspan x="0">fourni les</tspan><tspan x="0" dy="9.700">certifications et</tspan><tspan x="0" dy="9.700">les infos sur la</tspan><tspan x="0" dy="9.700">sécurité</tspan></text><use href="#pb" x="52" y="48"/><use href="#bs" x="43.500" y="62"/><text class="bt" x="52" y="67.300">IT</text></g>
<g id="s7" transform="translate(1236.500 900)"><rect width="65" height="65" class="v"/><text class="t" transform="matrix(.84 0 0 1 4 21.200)"><tspan x="0">programme la</tspan><tspan x="0" dy="9.700">campagne</tspan><tspan x="0" dy="9.700">média pour la</tspan><tspan x="0" dy="9.700">PR</tspan></text></g>
<g id="s8" transform="translate(1424 827)"><rect width="65" height="65" class="b"/><text class="t" transform="matrix(.84 0 0 1 4 26)"><tspan x="0">crée</tspan><tspan x="0" dy="9.700">l'environnement</tspan><tspan x="0" dy="9.700">dédié au client</tspan></text><use href="#pb" x="52" y="48"/><use href="#bs" x="43.500" y="62"/><text class="bt" x="52" y="67.300">OPS</text></g>
<g id="s9" transform="translate(1578.600 827)"><rect width="65" height="65" class="b"/><text class="t" transform="matrix(.84 0 0 1 4 30.900)"><tspan x="0">reste d'astreinte</tspan><tspan x="0" dy="9.700">sur Intercom</tspan></text><use href="#pb" x="52" y="48"/><use href="#bs" x="43.500" y="62"/><text class="bt" x="52" y="67.300">SE</text></g>
<g id="s10" transform="translate(1348 900)"><rect width="65" height="65" class="b"/><text class="t" transform="matrix(.84 0 0 1 4 26)"><tspan x="0">offre assistance</tspan><tspan x="0" dy="9.700">à travers</tspan><tspan x="0" dy="9.700">Intercom</tspan></text><use href="#pb" x="52" y="48"/><use href="#bs" x="43.500" y="62"/><text class="bt" x="52" y="67.300">DS</text></g>
<g id="s11" transform="translate(1348 975.700)"><rect width="65" height="65" class="b"/><text class="t" transform="matrix(.84 0 0 1 4 35.700)"><tspan x="0">osservability</tspan></text><use href="#pb" x="52" y="48"/><use href="#bs" x="43.500" y="62"/><text class="bt" x="52" y="67.300">OPS</text></g>
</g>
<g id="legend-client">
<path class="box" d="M269 1155.300H245.600A22 22 0 0 0 223.600 1177.300V1470A22 22 0 0 0 245.600 1492H509A22 22 0 0 0 531 1470V1177.300A22 22 0 0 0 509 1155.300H475.600"/>
<text class="lt" x="372" y="1160" textLength="154" lengthAdjust="spacingAndGlyphs">ACTIONS CLIENT</text>
<rect x="248" y="1203" width="31" height="31" class="g"/><rect x="247.300" y="1266" width="32" height="32.500" fill="#f2d3d5"/><rect x="247.300" y="1330" width="32" height="32.500" fill="#d98082"/>
<text class="l1" x="296" y="1215.700" textLength="81.400" lengthAdjust="spacingAndGlyphs">GÉNÉRIQUES</text>
<text class="l2" x="296" y="1228.700" textLength="145" lengthAdjust="spacingAndGlyphs">pas de contact avec le produit</text>
<text class="l1" x="296" y="1279.700" textLength="165" lengthAdjust="spacingAndGlyphs">INTERACTIONS - NIVEAU 1</text>
<text class="l2" x="296" y="1292.700" textLength="133" lengthAdjust="spacingAndGlyphs">Interactions avec le produit</text>
<text class="l2" x="296" y="1305.300" textLength="162" lengthAdjust="spacingAndGlyphs">Modules de base : Risk, Data, Rate</text>
<text class="l1" x="296" y="1343.700" textLength="165" lengthAdjust="spacingAndGlyphs">INTERACTIONS - NIVEAU 2</text>
<text class="l2" x="296" y="1356.700" textLength="133" lengthAdjust="spacingAndGlyphs">Interactions avec le produit</text>
<text class="l2" x="296" y="1369.300" textLength="210" lengthAdjust="spacingAndGlyphs">Modules avancés : Reporting, Optim, Pricing</text>
<text class="l2" x="296" y="1382.300" textLength="114" lengthAdjust="spacingAndGlyphs">Engine, Impact Analysis</text>
</g>
<g id="legend-akur8">
<path class="box" d="M687.500 1155.300H664.900A22 22 0 0 0 642.900 1177.300V1298.700A22 22 0 0 0 664.900 1320.700H928A22 22 0 0 0 950 1298.700V1177.300A22 22 0 0 0 928 1155.300H894.400"/>
<text class="lt" x="794.500" y="1160" textLength="149" lengthAdjust="spacingAndGlyphs">ACTIONS AKUR8</text>
<rect x="675.300" y="1196" width="32.500" height="32.300" class="b"/><rect x="675.300" y="1245.700" width="32.500" height="32.300" class="v"/>
<text class="l1" x="720" y="1216" textLength="149" lengthAdjust="spacingAndGlyphs">Sales &amp; Marketing pôle</text>
<text class="l1" x="720" y="1266" textLength="61.500" lengthAdjust="spacingAndGlyphs">Tech pôle</text>
</g>
<g id="legend-stakeholders">
<path class="box" d="M1104 1155.300H1080.700A22 22 0 0 0 1058.700 1177.300V1419A22 22 0 0 0 1080.700 1441H1345.700A22 22 0 0 0 1367.700 1419V1177.300A22 22 0 0 0 1345.700 1155.300H1311.700"/>
<text class="lt" x="1207.800" y="1161.700" textLength="145.700" lengthAdjust="spacingAndGlyphs">STAKEHOLDERS</text>
<text class="l1" x="1085.300" y="1201.700" textLength="149.700" lengthAdjust="spacingAndGlyphs">Sales &amp; Marketing pôle</text>
<text class="l1" x="1085.300" y="1271.700" textLength="61" lengthAdjust="spacingAndGlyphs">Tech pôle</text>
<g id="st1"><use href="#sperson" x="1094" y="1219.300"/><rect x="1085" y="1228" width="17.700" height="7" class="bd2"/><text class="bt" x="1093.800" y="1233.300">SALES</text><text class="s" x="1109" y="1227">Client Executive</text></g>
<g id="st2"><use href="#sperson" x="1194.300" y="1219.300"/><rect x="1185.700" y="1228" width="18" height="7" class="bd2"/><text class="bt" x="1194.700" y="1233.300">MRK</text><text class="s" x="1210" y="1223.700">Marketing Manager</text><text class="s" x="1210" y="1230.300">Graphic / Motion Designer</text></g>
<g id="st3"><use href="#sperson" x="1297.300" y="1219.300"/><rect x="1288.700" y="1228" width="18" height="7" class="bd2"/><text class="bt" x="1297.700" y="1233.300">OPS</text><text class="s" x="1316" y="1223.700">SalesOps</text><text class="s" x="1316" y="1230.300">People &amp; HR</text></g>
<g id="st4"><use href="#sperson" x="1094" y="1289.300"/><rect x="1085" y="1296.700" width="17.700" height="7.500" class="bd"/><text class="bt" x="1093.800" y="1302.200">ADS</text><text class="s" x="1109" y="1295.300">Actuarial Data Scientist</text><text class="s" x="1109" y="1302">(Customer Success Team)</text></g>
<g id="st5"><use href="#sperson" x="1194.300" y="1289.300"/><rect x="1185.700" y="1296.700" width="18" height="7.500" class="bd"/><text class="bt" x="1194.700" y="1302.200">DS</text><text class="s" x="1210" y="1295.300">Data Scientist</text><text class="s" x="1210" y="1302">(Tech Team)</text></g>
<g id="st6"><use href="#sperson" x="1297.300" y="1289.300"/><rect x="1288.700" y="1296.700" width="18" height="7.500" class="bd"/><text class="bt" x="1297.700" y="1302.200">OPS</text><text class="s" x="1316" y="1296.300">DevOps</text><text class="s" x="1316" y="1303">Cloud Engineer</text></g>
<g id="st7"><use href="#sperson" x="1094" y="1330"/><rect x="1085" y="1337" width="17.700" height="7.500" class="bd"/><text class="bt" x="1093.800" y="1342.500">SE</text><text class="s" x="1109" y="1335.300" font-size="5.200">Software Engineer</text><text class="s" x="1109" y="1342" style="font-size:5.100px">(Front / Back / Fullstack / ML)</text></g>
<g id="st8"><use href="#sperson" x="1194.300" y="1330"/><rect x="1185.700" y="1337" width="18" height="7.500" class="bd"/><text class="bt" x="1194.700" y="1342.500">IT</text><text class="s" x="1210" y="1336.300">Security Officier</text><text class="s" x="1210" y="1343">IT Engineer</text></g>
<g id="st9"><use href="#sperson" x="1094" y="1369.300"/><rect x="1085" y="1377" width="17.700" height="7.500" class="bd"/><text class="bt" x="1093.800" y="1382.500">PROD</text><text class="s" x="1109" y="1375.700">Product Manager</text><text class="s" x="1109" y="1382.300">Product Owner</text></g>
<g id="st10"><use href="#sperson" x="1194.300" y="1369.300"/><rect x="1185.700" y="1377" width="18" height="7.500" class="bd"/><text class="bt" x="1194.700" y="1382.500">DEZ</text><text class="s" x="1210" y="1375.700">UX Researcher</text><text class="s" x="1210" y="1382.300">Product Designer</text></g>
</g>
</svg>
